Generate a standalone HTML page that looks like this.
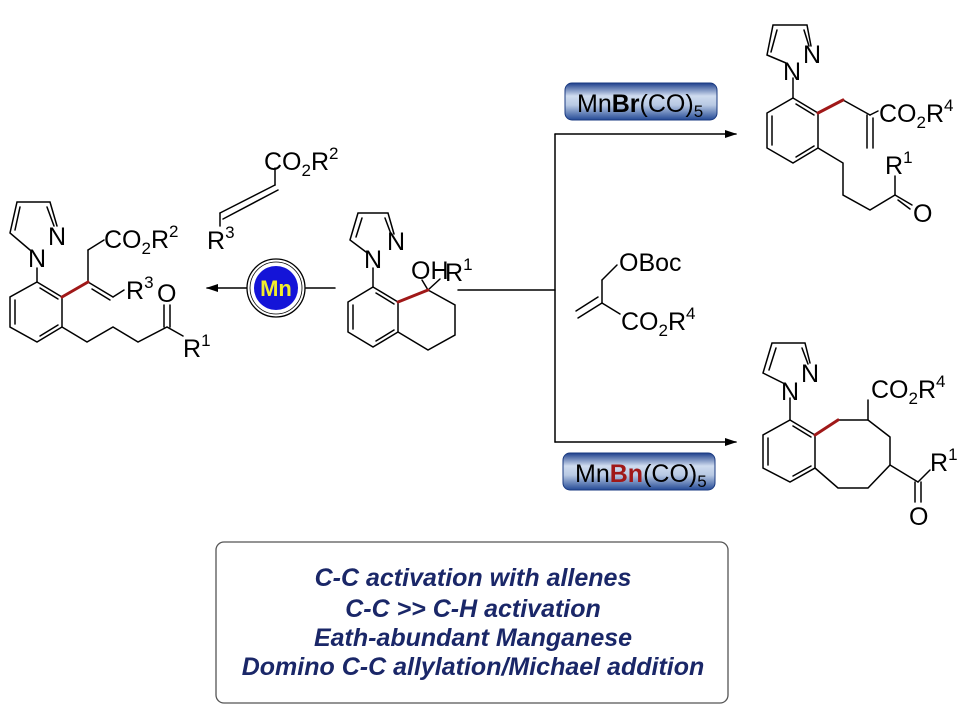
<!DOCTYPE html>
<html><head><meta charset="utf-8"><style>
html,body{margin:0;padding:0;background:#fff;}
svg{display:block;font-family:"Liberation Sans",sans-serif;}
</style></head><body>
<svg width="973" height="717" viewBox="0 0 973 717" xmlns="http://www.w3.org/2000/svg">
<defs>
<linearGradient id="g" x1="0" y1="0" x2="0" y2="1">
<stop offset="0" stop-color="#1e3f8c"/><stop offset="0.35" stop-color="#cfdcef"/><stop offset="0.6" stop-color="#b7c8e3"/><stop offset="1" stop-color="#244a96"/>
</linearGradient>
<marker id="ar" markerWidth="12" markerHeight="8" refX="11" refY="4" orient="auto" markerUnits="userSpaceOnUse"><path d="M0,0 L12,4 L0,8 Z" fill="#000"/></marker>
</defs>
<g stroke="#000" stroke-width="1.5" fill="none" stroke-linecap="round">
<!-- Left product -->
<polyline points="30,250 10,233 17,202 50,202 57,226"/>
<line x1="20" y1="207" x2="15" y2="230"/><line x1="47" y1="207" x2="54" y2="226"/>
<line x1="37" y1="268" x2="37" y2="282"/>
<polygon points="37,282 62,297 62,327 37,342 10,327 10,297"/>
<line x1="15" y1="300" x2="15" y2="324"/><line x1="40" y1="336" x2="58" y2="325"/><line x1="40" y1="288" x2="58" y2="299"/>
<line x1="88" y1="282" x2="88" y2="250"/><line x1="88" y1="250" x2="104" y2="240"/>
<line x1="88" y1="282" x2="113" y2="297"/><line x1="92" y1="289" x2="110" y2="300"/>
<line x1="113" y1="297" x2="124" y2="290"/>
<polyline points="62,327 87,342 113,327 138,342 167,327 183,336"/>
<line x1="164" y1="327" x2="164" y2="305"/><line x1="170" y1="327" x2="170" y2="305"/>
<!-- allene -->
<line x1="220" y1="226" x2="220" y2="213"/>
<line x1="220" y1="213" x2="275" y2="185"/><line x1="223" y1="219" x2="278" y2="190"/>
<line x1="275" y1="185" x2="275" y2="168"/>
<!-- SM -->
<polyline points="366,252 350,240 358,213 388,213 394,234"/>
<line x1="362" y1="218" x2="356" y2="237"/><line x1="385" y1="218" x2="391" y2="234"/>
<line x1="373" y1="268" x2="373" y2="287"/>
<polygon points="373,287 398,302 398,332 373,347 348,332 348,302"/>
<line x1="353" y1="305" x2="353" y2="329"/><line x1="376" y1="341" x2="394" y2="330"/><line x1="376" y1="293" x2="394" y2="304"/>
<polyline points="428,290 455,305 455,335 428,350 398,332"/>
<line x1="428" y1="290" x2="422" y2="280"/><line x1="428" y1="290" x2="440" y2="279"/>
<!-- arrows -->
<line x1="335" y1="288" x2="306" y2="288"/>
<line x1="247" y1="288" x2="207" y2="288" marker-end="url(#ar)"/>
<line x1="458" y1="290" x2="555" y2="290"/>
<line x1="555" y1="134" x2="555" y2="442"/>
<line x1="555" y1="134" x2="736" y2="134" marker-end="url(#ar)"/>
<line x1="555" y1="442" x2="736" y2="442" marker-end="url(#ar)"/>
<!-- OBoc reagent -->
<line x1="617" y1="265" x2="602" y2="280"/><line x1="602" y1="280" x2="602" y2="303"/>
<line x1="602" y1="303" x2="578" y2="318"/><line x1="598" y1="297" x2="576" y2="311"/>
<line x1="602" y1="303" x2="620" y2="314"/>
<!-- top right product -->
<polyline points="786,63 767,55 773,25 807,25 811,46"/>
<line x1="777" y1="30" x2="771" y2="52"/><line x1="804" y1="30" x2="809" y2="46"/>
<line x1="793" y1="78" x2="793" y2="98"/>
<polygon points="793,98 818,113 818,148 793,163 767,148 767,113"/>
<line x1="772" y1="116" x2="772" y2="145"/><line x1="796" y1="157" x2="814" y2="146"/><line x1="796" y1="104" x2="814" y2="115"/>
<line x1="843" y1="100" x2="870" y2="115"/><line x1="870" y1="115" x2="878" y2="111"/>
<line x1="867" y1="115" x2="867" y2="148"/><line x1="873" y1="118" x2="873" y2="148"/>
<polyline points="818,148 843,163 843,195 870,210 895,195"/>
<line x1="895" y1="195" x2="895" y2="176"/>
<line x1="895" y1="195" x2="912" y2="205"/><line x1="898" y1="200" x2="910" y2="209"/>
<!-- bottom right product -->
<polyline points="783,383 763,373 772,343 805,343 810,363"/>
<line x1="776" y1="348" x2="769" y2="370"/><line x1="802" y1="348" x2="808" y2="364"/>
<line x1="790" y1="398" x2="790" y2="420"/>
<polygon points="790,420 815,435 815,468 790,482 763,468 763,435"/>
<line x1="768" y1="438" x2="768" y2="465"/><line x1="793" y1="476" x2="811" y2="466"/><line x1="793" y1="426" x2="811" y2="437"/>
<polyline points="838,420 868,420 890,437 890,465 868,488 838,488 815,468"/>
<line x1="868" y1="420" x2="868" y2="400"/>
<line x1="890" y1="465" x2="918" y2="482"/><line x1="918" y1="482" x2="930" y2="470"/>
<line x1="915" y1="482" x2="915" y2="502"/><line x1="921" y1="482" x2="921" y2="502"/>
</g>
<!-- red bonds -->
<g stroke="#a01818" stroke-width="3" stroke-linecap="round">
<line x1="62" y1="297" x2="88" y2="282"/>
<line x1="398" y1="302" x2="428" y2="290"/>
<line x1="818" y1="113" x2="843" y2="100"/>
<line x1="815" y1="435" x2="838" y2="420"/>
</g>
<!-- Mn catalyst -->
<circle cx="276" cy="288" r="29" fill="#fff" stroke="#000" stroke-width="1.3"/>
<circle cx="276" cy="288" r="26" fill="none" stroke="#000" stroke-width="0.8"/>
<circle cx="276" cy="288" r="22" fill="#1414d8"/>
<text x="276" y="296" font-size="22" font-weight="bold" fill="#f2ee2a" text-anchor="middle">Mn</text>
<!-- labels -->
<g font-size="25" fill="#000">
<text x="48" y="245">N</text><text x="28" y="267">N</text>
<text x="104" y="248">CO<tspan font-size="17" dy="6">2</tspan><tspan dy="-6">R</tspan><tspan font-size="17" dy="-11">2</tspan></text>
<text x="126" y="299">R<tspan font-size="17" dy="-11">3</tspan></text>
<text x="157" y="302">O</text>
<text x="183" y="357">R<tspan font-size="17" dy="-11">1</tspan></text>
<text x="264" y="170">CO<tspan font-size="17" dy="6">2</tspan><tspan dy="-6">R</tspan><tspan font-size="17" dy="-11">2</tspan></text>
<text x="207" y="249">R<tspan font-size="17" dy="-11">3</tspan></text>
<text x="387" y="250">N</text><text x="364" y="268">N</text>
<text x="411" y="279">OH</text><text x="445" y="281">R<tspan font-size="17" dy="-11">1</tspan></text>
<text x="619" y="271">OBoc</text>
<text x="621" y="330">CO<tspan font-size="17" dy="6">2</tspan><tspan dy="-6">R</tspan><tspan font-size="17" dy="-11">4</tspan></text>
<text x="803" y="63">N</text><text x="783" y="80">N</text>
<text x="879" y="122">CO<tspan font-size="17" dy="6">2</tspan><tspan dy="-6">R</tspan><tspan font-size="17" dy="-11">4</tspan></text>
<text x="885" y="174">R<tspan font-size="17" dy="-11">1</tspan></text>
<text x="913" y="222">O</text>
<text x="801" y="382">N</text><text x="781" y="400">N</text>
<text x="871" y="398">CO<tspan font-size="17" dy="6">2</tspan><tspan dy="-6">R</tspan><tspan font-size="17" dy="-11">4</tspan></text>
<text x="930" y="471">R<tspan font-size="17" dy="-11">1</tspan></text>
<text x="909" y="525">O</text>
</g>
<!-- reagent boxes -->
<rect x="565" y="83" width="152" height="37" rx="7" fill="url(#g)" stroke="#1a3a80" stroke-width="1"/>
<text x="577" y="112" font-size="25" fill="#000">Mn<tspan font-weight="bold">Br</tspan>(CO)<tspan font-size="17" dy="5">5</tspan></text>
<rect x="563" y="453" width="152" height="37" rx="7" fill="url(#g)" stroke="#1a3a80" stroke-width="1"/>
<text x="575" y="482" font-size="25" fill="#000">Mn<tspan font-weight="bold" fill="#a01818">Bn</tspan>(CO)<tspan font-size="17" dy="5">5</tspan></text>
<!-- text box -->
<rect x="216" y="542" width="512" height="161" rx="8" fill="#fff" stroke="#555" stroke-width="1.3"/>
<g font-size="25" font-weight="bold" font-style="italic" fill="#1a2768" text-anchor="middle">
<text x="473" y="586">C-C activation with allenes</text>
<text x="473" y="617">C-C &gt;&gt; C-H activation</text>
<text x="473" y="646">Eath-abundant Manganese</text>
<text x="473" y="675">Domino C-C allylation/Michael addition</text>
</g>
</svg>
</body></html>
